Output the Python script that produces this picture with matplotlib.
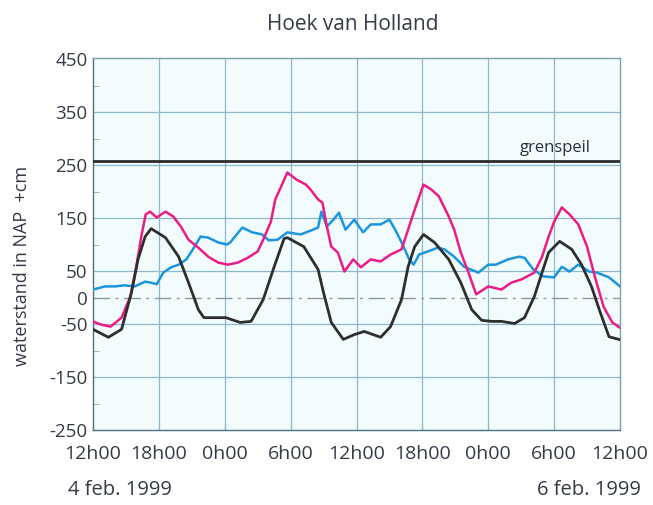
import matplotlib
matplotlib.use("Agg")
import matplotlib.pyplot as plt
import numpy as np

plt.rcParams['font.family'] = ['Open Sans', 'DejaVu Sans']
plt.rcParams['axes.unicode_minus'] = False

# hours since 4 feb. 1999 12h00
black_h = [0, 1.4, 2.6, 3.5, 4.1, 4.75, 5.3, 6.6, 7.8, 8.7, 9.6, 10.1, 12.1, 13.4, 14.4,
           15.5, 16.5, 17.4, 17.7, 19.2, 20.5, 21.0, 21.7, 22.8, 23.8, 24.7, 26.2, 27.1,
           28.1, 28.7, 29.3, 30.1, 31.1, 32.4, 33.5, 34.5, 35.4, 36.3, 37.2, 38.4, 39.3,
           40.2, 40.9, 41.5, 42.5, 43.6, 44.5, 45.4, 46.2, 47.0, 47.9]
black_v = [-60, -75, -60, 9, 72, 115, 130, 113, 77, 28, -23, -38, -38, -47, -45,
           -4, 58, 111, 113, 96, 53, 9, -47, -79, -70, -64, -75, -55,
           -4, 58, 96, 119, 104, 72, 28, -23, -43, -45, -45, -49, -38,
           2, 47, 85, 106, 91, 62, 21, -28, -74, -79]

pink_h = [0, 0.7, 1.6, 2.6, 3.4, 3.9, 4.4, 4.8, 5.2, 5.8, 6.6, 7.3, 8.0, 8.7, 9.6, 10.5,
          11.4, 12.3, 13.2, 14.1, 15.0, 15.5, 16.2, 16.6, 17.3, 17.7, 18.5, 19.4, 19.8,
          20.5, 20.9, 21.3, 21.7, 22.3, 22.9, 23.7, 24.4, 25.3, 26.2, 27.1, 28.1, 28.7,
          29.3, 30.1, 30.8, 31.5, 32.4, 32.9, 33.5, 34.2, 34.9, 36.0, 37.2, 38.1, 39.0,
          40.2, 40.9, 41.5, 42.0, 42.7, 43.4, 44.2, 45.0, 45.7, 46.5, 47.3, 48]
pink_v = [-45, -51, -55, -38, 2, 53, 115, 157, 162, 151, 162, 153, 134, 109, 94, 77,
          66, 62, 66, 75, 87, 109, 143, 185, 217, 236, 223, 213, 204,
          185, 179, 134, 96, 85, 49, 72, 57, 72, 68, 81, 91, 128,
          166, 213, 204, 191, 153, 128, 85, 47, 6, 21, 15, 28, 34,
          47, 77, 115, 143, 170, 157, 138, 96, 40, -17, -47, -57]

blue_h = [0, 1.1, 2.0, 2.9, 3.8, 4.75, 5.3, 5.8, 6.4, 7.1, 7.8, 8.5, 9.1, 9.8, 10.5, 11.4,
          12.2, 12.5, 13.6, 14.5, 15.4, 16.0, 16.8, 17.7, 18.9, 19.8, 20.5, 20.8, 21.3,
          21.9, 22.4, 23.0, 23.8, 24.6, 25.3, 26.2, 27.0, 27.6, 28.2, 28.8, 29.2, 29.7,
          30.5, 31.4, 32.0, 32.9, 33.8, 35.1, 36.0, 36.7, 37.8, 38.8, 39.3, 40.1, 41.0,
          42.0, 42.7, 43.4, 44.2, 45.2, 45.9, 47.0, 48.0]
blue_v = [15, 21, 21, 23, 21, 30, 28, 25, 47, 57, 62, 72, 91, 115, 113, 104,
          100, 104, 132, 123, 119, 108, 109, 123, 119, 126, 132, 162, 134,
          147, 160, 128, 147, 123, 138, 138, 147, 125, 100, 72, 62, 81,
          87, 94, 91, 77, 58, 47, 62, 62, 72, 77, 75, 53, 40,
          38, 58, 49, 62, 49, 47, 38, 21]

grenspeil = 258
x_ticks = [0, 6, 12, 18, 24, 30, 36, 42, 48]
x_labels = ['12h00', '18h00', '0h00', '6h00', '12h00', '18h00', '0h00', '6h00', '12h00']
y_ticks = [450, 350, 250, 150, 50, 0, -50, -150, -250]

txt = '#343a48'
gridc = '#8db8cc'

fig = plt.figure(figsize=(6.53, 5.05), dpi=100)
ax = fig.add_axes([93/653, 1-430/505, 527/653, 372/505])
ax.set_facecolor('#f3fcfd')

for y in [350, 250, 150, 50, -50, -150]:
    ax.axhline(y, color=gridc, lw=0.9, zorder=1)
for x in x_ticks[1:-1]:
    ax.axvline(x, color=gridc, lw=0.9, zorder=1)
ax.axhline(0, color='#8a9aa0', lw=1.0, dashes=(12, 4, 2, 4), zorder=1)

ax.axhline(grenspeil, color='#2b2b2b', lw=2.0, zorder=3)
ax.text(45.3, grenspeil + 9, 'grenspeil', ha='right', va='bottom',
        fontsize=12, color='#2a2e3a', zorder=4)

ax.plot(blue_h, blue_v, color='#1a96e0', lw=1.8, zorder=4)
ax.plot(pink_h, pink_v, color='#ec1b86', lw=1.8, zorder=5)
ax.plot(black_h, black_v, color='#2e2e2e', lw=2.0, zorder=6)

ax.set_xlim(0, 48)
ax.set_ylim(-250, 452)
ax.set_xticks(x_ticks)
ax.set_xticklabels(x_labels)
ax.set_yticks(y_ticks)
ax.set_yticks([400, 300, 200, 100, -100, -200], minor=True)
ax.tick_params(axis='y', which='major', length=0, pad=4, labelsize=13.5, labelcolor=txt)
ax.tick_params(axis='y', which='minor', direction='in', length=4, color='#9aa5aa')
ax.tick_params(axis='x', which='major', direction='in', length=4, color=gridc,
               pad=11, labelsize=14, labelcolor=txt)
for s in ax.spines.values():
    s.set_color('#7d9fb0')
    s.set_linewidth(1.0)
ax.spines['left'].set_color('#4f6f80')
ax.spines['bottom'].set_color('#4f6f80')

fig.text(353/653, 1-25/505, 'Hoek van Holland', ha='center', va='center',
         fontsize=15, color=txt)
fig.text(22/653, 1-266/505, 'waterstand in NAP  +cm', rotation=90,
         ha='center', va='center', fontsize=13, color=txt)
fig.text(68/653, 1-490/505, '4 feb. 1999', ha='left', va='center',
         fontsize=14.5, color=txt)
fig.text(641/653, 1-490/505, '6 feb. 1999', ha='right', va='center',
         fontsize=14.5, color=txt)

fig.savefig('out.png', dpi=100, facecolor='white')
